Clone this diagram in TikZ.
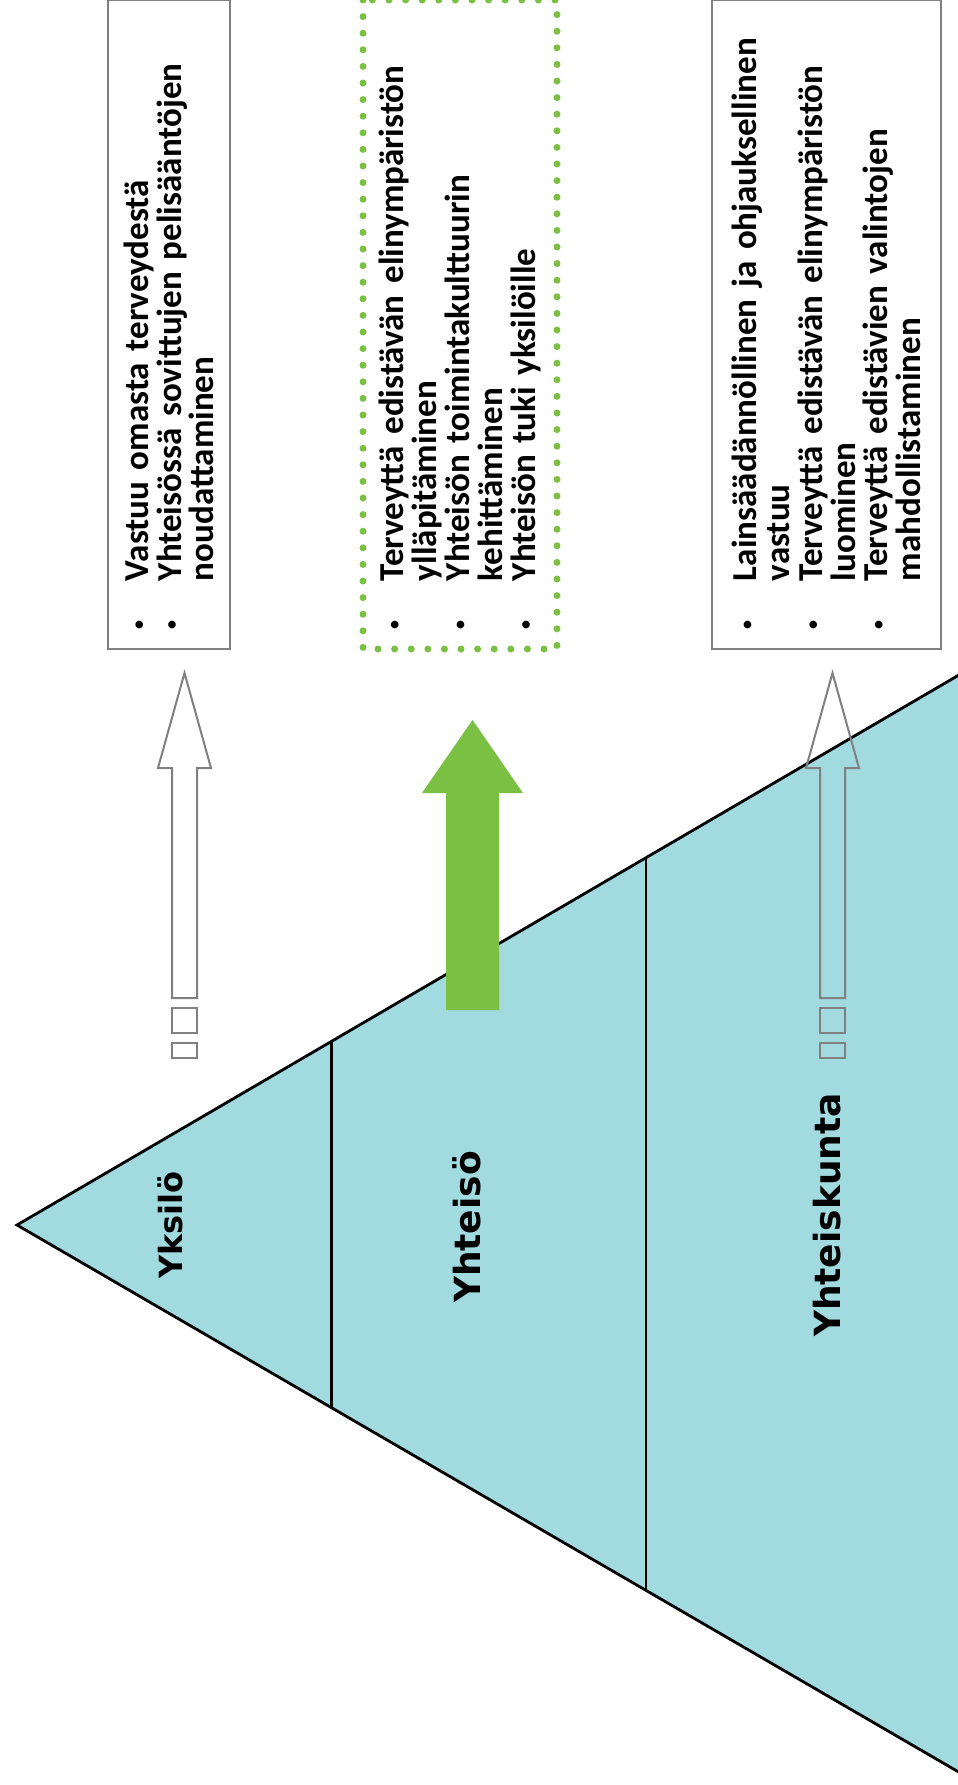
\documentclass[tikz,border=0pt]{standalone}
\usepackage{fontspec}
\setmainfont{Carlito}
\newfontfamily\labelfont{DejaVu Sans}
\usetikzlibrary{positioning}

\definecolor{pyramid}{RGB}{161,218,223}
\definecolor{leafgreen}{RGB}{122,193,67}
\definecolor{framegray}{RGB}{128,128,128}

\newcommand{\bul}{\makebox[24pt][l]{\raisebox{2pt}{\fontsize{9}{9}\selectfont\textbullet}}}
\newcommand{\ind}{\hspace*{24pt}}
\newcommand{\boxfont}{\bfseries\fontsize{17.5}{16.4}\selectfont\setlength{\lineskiplimit}{-100pt}}

\tikzset{
  infobox/.style={draw=framegray, line width=1pt, rotate=90,
    minimum width=324.5pt, text width=304.5pt, inner xsep=10pt, inner ysep=0pt,
    align=left, font=\boxfont},
  levellabel/.style={rotate=90, inner sep=0pt,
    font=\labelfont\bfseries\fontsize{18}{20}\selectfont},
  hollowarrow/.style={draw=framegray, line width=1pt}
}

\begin{document}
\begin{tikzpicture}[x=0.5pt,y=-0.5pt]
\path[use as bounding box, fill=white] (0,0) rectangle (958,1785);

% pyramid
\fill[pyramid] (17,1225) -- (1000,651) -- (1000,1796) -- cycle;
\draw[line width=1.4pt] (1000,651) -- (17,1225) -- (1000,1796);
\draw[line width=1.5pt] (331,1042) -- (331,1407);
\draw[line width=1pt] (646,859) -- (646,1590);

\node[levellabel, font=\labelfont\bfseries\fontsize{16}{18}\selectfont] (yksilo) at (170,1225) {Yksilö};
\node[levellabel] (yhteiso) at (467,1227) {Yhteisö};
\node[levellabel] (yhteiskunta) at (827,1215) {Yhteiskunta};

% boxes
\node[infobox, minimum height=61pt] (yksilobox) at (169,324.5) {%
\mbox{\bul Vastuu omasta terveydestä}\\
\mbox{\bul Yhteisössä sovittujen pelisääntöjen}\\
\mbox{\ind noudattaminen}};
\node[infobox, draw=leafgreen, line width=3.5pt, dash pattern=on 0pt off 8.3pt, line cap=round,
  minimum height=97pt] (yhteisobox) at (460,324.5) {%
\mbox{\bul Terveyttä edistävän elinympäristön}\\
\mbox{\ind ylläpitäminen}\\
\mbox{\bul Yhteisön toimintakulttuurin}\\
\mbox{\ind kehittäminen}\\
\mbox{\bul Yhteisön tuki yksilöille}};
\node[infobox, minimum height=114.5pt] (yhteiskuntabox) at (826.5,324.5) {%
\mbox{\bul Lainsäädännöllinen ja ohjauksellinen}\\
\mbox{\ind vastuu}\\
\mbox{\bul Terveyttä edistävän elinympäristön}\\
\mbox{\ind luominen}\\
\mbox{\bul Terveyttä edistävien valintojen}\\
\mbox{\ind mahdollistaminen}};

% arrows
\draw[hollowarrow] (172,998) -- (172,768) -- (158,768) -- (184.5,673) -- (211,768) -- (197,768) -- (197,998) -- cycle;
\draw[hollowarrow] (172,1008) rectangle (197,1033);
\draw[hollowarrow] (172,1043) rectangle (197,1058);
\fill[leafgreen] (446,1010) -- (446,793) -- (422,793) -- (472.5,720) -- (523,793) -- (499,793) -- (499,1010) -- cycle;
\draw[hollowarrow] (820,998) -- (820,768) -- (806,768) -- (832.5,673) -- (859,768) -- (845,768) -- (845,998) -- cycle;
\draw[hollowarrow] (820,1008) rectangle (845,1033);
\draw[hollowarrow] (820,1043) rectangle (845,1058);

\end{tikzpicture}
\end{document}
